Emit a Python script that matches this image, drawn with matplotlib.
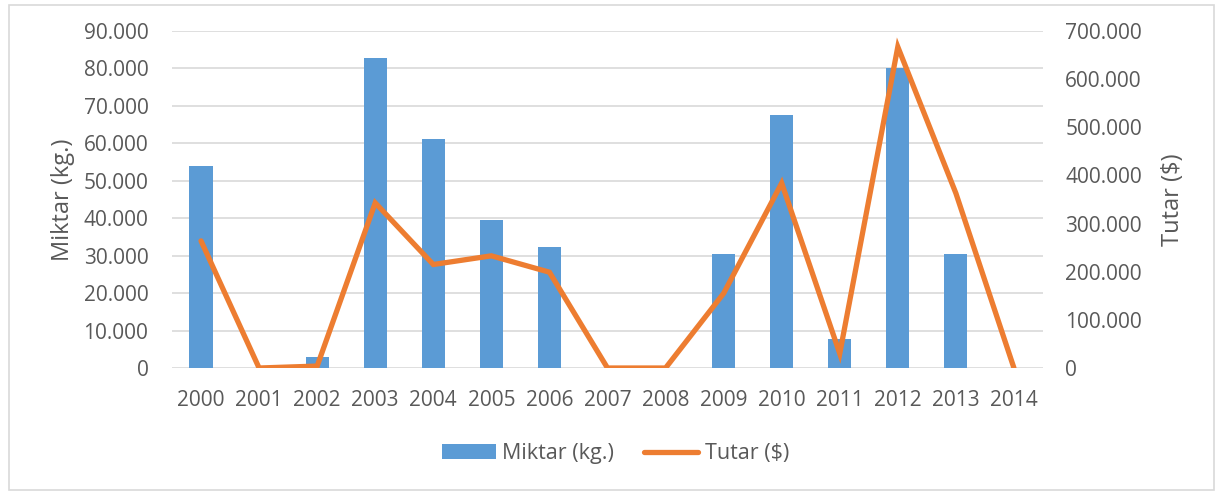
import matplotlib
matplotlib.use("Agg")
import matplotlib.pyplot as plt
from matplotlib.patches import Rectangle
from matplotlib.ticker import FuncFormatter
import numpy as np

years = ["2000", "2001", "2002", "2003", "2004", "2005", "2006", "2007",
         "2008", "2009", "2010", "2011", "2012", "2013", "2014"]
miktar = [54000, 0, 3000, 82800, 61200, 39500, 32300, 0,
          0, 30500, 67600, 7800, 80200, 30400, 0]
tutar = [264000, 0, 4000, 343000, 215000, 233000, 199000, 0,
         0, 155000, 384000, 30000, 667000, 363000, 0]

BLUE = "#5B9BD5"
ORANGE = "#ED7D31"
TEXT = "#595959"
GRID = "#D9D9D9"

plt.rcParams["font.family"] = ["Open Sans", "DejaVu Sans"]
plt.rcParams["font.size"] = 15


def dotted(v, _pos):
    # thousands separator with dots, as in the source
    return f"{int(round(v)):,}".replace(",", ".")


fig = plt.figure(figsize=(12.19, 4.91), dpi=100)
fig.patches.append(Rectangle((0.007, 0.003), 0.989, 0.986, transform=fig.transFigure,
                             fill=False, edgecolor="#D9D9D9", linewidth=1.2))

ax = fig.add_axes([0.1411, 0.2505, 0.7145, 0.6864])
x = np.arange(len(years))
bars = ax.bar(x, miktar, width=0.40, color=BLUE, zorder=2, label="Miktar (kg.)")
ax.set_ylim(0, 90000)
ax.set_yticks(np.arange(0, 90001, 10000))
ax.yaxis.set_major_formatter(FuncFormatter(dotted))
ax.set_xlim(-0.5, len(years) - 0.5)
ax.set_xticks(x)
ax.set_xticklabels(years)
ax.grid(axis="y", color=GRID, linewidth=1.2, zorder=0)
ax.set_axisbelow(True)
for s in ax.spines.values():
    s.set_visible(False)
ax.tick_params(length=0, colors=TEXT, labelsize=15)
ax.tick_params(axis="x", pad=16)
ax.tick_params(axis="y", pad=17)
ax.set_ylabel("Miktar (kg.)", color=TEXT, fontsize=17, labelpad=6)

ax2 = ax.twinx()
line, = ax2.plot(x, tutar, color=ORANGE, linewidth=3.8, solid_capstyle="round",
                 solid_joinstyle="miter", zorder=3, label="Tutar ($)")
ax2.set_ylim(0, 700000)
ax2.set_yticks(np.arange(0, 700001, 100000))
ax2.yaxis.set_major_formatter(FuncFormatter(dotted))
for s in ax2.spines.values():
    s.set_visible(False)
ax2.tick_params(length=0, colors=TEXT, labelsize=15, pad=16)
ax2.set_ylabel("Tutar ($)", color=TEXT, fontsize=17, labelpad=14)

leg = fig.legend([bars, line], ["Miktar (kg.)", "Tutar ($)"], loc="center",
                 bbox_to_anchor=(0.505, 0.076), ncol=2, frameon=False,
                 fontsize=15.5, handlelength=2.5, handletextpad=0.3,
                 columnspacing=1.4)
for t in leg.get_texts():
    t.set_color(TEXT)

fig.savefig("out.png", dpi=100)
